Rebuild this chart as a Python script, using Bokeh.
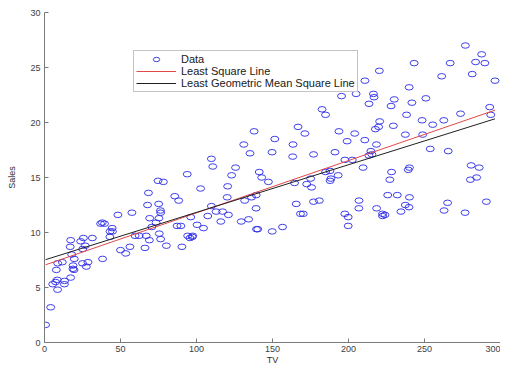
from bokeh.plotting import figure
from bokeh.models import Range1d, FixedTicker, Legend, LegendItem, ColumnDataSource
from bokeh.embed import file_html
from bokeh.resources import INLINE
import numpy as np

tv = [230.1, 44.5, 17.2, 151.5, 180.8, 8.7, 57.5, 120.2, 8.6, 199.8,
      66.1, 214.7, 23.8, 97.5, 204.1, 195.4, 67.8, 281.4, 69.2, 147.3,
      218.4, 237.4, 13.2, 228.3, 62.3, 262.9, 142.9, 240.1, 248.8, 70.6,
      292.9, 112.9, 97.2, 265.6, 95.7, 290.7, 266.9, 74.7, 43.1, 228.0,
      202.5, 177.0, 293.6, 206.9, 25.1, 175.1, 89.7, 239.9, 227.2, 66.9,
      199.8, 100.4, 216.4, 182.6, 262.7, 198.9, 7.3, 136.2, 210.8, 210.7,
      53.5, 261.3, 239.3, 102.7, 131.1, 69.0, 31.5, 139.3, 237.4, 216.8,
      199.1, 109.8, 26.8, 129.4, 213.4, 16.9, 27.5, 120.5, 5.4, 116.0,
      76.4, 239.8, 75.3, 68.4, 213.5, 193.2, 76.3, 110.7, 88.3, 109.8,
      134.3, 28.6, 217.7, 250.9, 107.4, 163.3, 197.6, 184.9, 289.7, 135.2,
      222.4, 296.4, 280.2, 187.9, 238.2, 137.9, 25.0, 90.4, 13.1, 255.4,
      225.8, 241.7, 175.7, 209.6, 78.2, 75.1, 139.2, 76.4, 125.7, 19.4,
      141.3, 18.8, 224.0, 123.1, 229.5, 87.2, 7.8, 80.2, 220.3, 59.6,
      0.7, 265.2, 8.4, 219.8, 36.9, 48.3, 25.6, 273.7, 43.0, 184.9,
      73.4, 193.7, 220.5, 104.6, 96.2, 140.3, 240.1, 243.2, 38.0, 44.7,
      280.7, 121.0, 197.6, 171.3, 187.8, 4.1, 93.9, 149.8, 11.7, 131.7,
      172.5, 85.7, 188.4, 163.5, 117.2, 234.5, 17.9, 206.8, 215.4, 284.3,
      50.0, 164.5, 19.6, 168.4, 222.4, 276.9, 248.4, 170.2, 276.7, 165.6,
      156.6, 218.5, 56.2, 287.6, 253.8, 205.0, 139.5, 191.1, 286.0, 18.7,
      39.5, 75.5, 17.2, 166.8, 149.7, 38.2, 94.2, 177.0, 283.6, 232.1]

sales = [22.1, 10.4, 9.3, 18.5, 12.9, 7.2, 11.8, 13.2, 4.8, 10.6,
         8.6, 17.4, 9.2, 9.7, 19.0, 22.4, 12.5, 24.4, 11.3, 14.6,
         18.0, 12.5, 5.6, 15.5, 9.7, 12.0, 15.0, 15.9, 18.9, 10.5,
         21.4, 11.9, 9.6, 17.4, 9.5, 12.8, 25.4, 14.7, 10.1, 21.5,
         16.6, 17.1, 20.7, 12.9, 8.5, 14.9, 10.6, 23.2, 14.8, 9.7,
         11.4, 10.7, 22.6, 21.2, 20.2, 23.7, 5.5, 13.2, 23.8, 18.4,
         8.1, 24.2, 15.7, 14.0, 18.0, 9.3, 9.5, 13.4, 18.9, 22.3,
         18.3, 12.4, 8.8, 11.0, 17.0, 8.7, 6.9, 14.2, 5.3, 11.0,
         11.8, 12.3, 11.3, 13.6, 21.7, 15.2, 12.0, 16.0, 12.9, 16.7,
         11.2, 7.3, 19.4, 22.2, 11.5, 16.9, 11.7, 15.5, 25.4, 17.2,
         11.7, 23.8, 14.8, 14.7, 20.7, 19.2, 7.2, 8.7, 5.3, 19.8,
         13.4, 21.8, 14.1, 15.9, 14.6, 12.6, 12.2, 9.4, 15.9, 6.6,
         15.5, 7.0, 11.6, 15.2, 19.7, 10.6, 6.6, 8.8, 24.7, 9.7,
         1.6, 12.7, 5.7, 19.6, 10.8, 11.6, 9.5, 20.8, 9.6, 20.7,
         10.9, 19.2, 20.1, 10.4, 11.4, 10.3, 13.2, 25.4, 10.9, 10.1,
         16.1, 11.6, 16.6, 19.0, 15.6, 3.2, 15.3, 10.1, 7.3, 12.9,
         14.4, 13.3, 14.9, 18.0, 11.9, 11.9, 8.0, 12.2, 17.1, 15.0,
         8.4, 14.5, 7.6, 11.7, 11.5, 27.0, 20.2, 11.7, 11.8, 12.6,
         10.5, 12.2, 8.7, 26.2, 17.6, 22.6, 10.3, 17.3, 15.9, 6.7,
         10.8, 9.9, 5.9, 19.6, 17.3, 7.6, 9.7, 12.8, 25.5, 13.4]

# Least geometric mean square line
lgm_intercept = 7.5
lgm_slope = 0.0433

x_ticks = [0, 50, 100, 150, 200, 250, 300]
y_ticks = [0, 5, 10, 15, 20, 25, 30]

# least squares fit from the data
ls_slope, ls_intercept = np.polyfit(tv, sales, 1)
x_line = [min(tv), max(tv)]
ls_y = [ls_intercept + ls_slope * v for v in x_line]
lgm_y = [lgm_intercept + lgm_slope * v for v in x_line]

FONT = "Liberation Sans"

p = figure(width=500, height=367, output_backend="svg", toolbar_location=None,
           x_range=Range1d(0, 300), y_range=Range1d(0, 30),
           min_border_left=44, min_border_right=0, min_border_top=12, min_border_bottom=0)
p.outline_line_color = None
p.xgrid.visible = False
p.ygrid.visible = False

for ax in (p.xaxis[0], p.yaxis[0]):
    ax.axis_line_color = "#7a7a7a"
    ax.major_tick_line_color = "#7a7a7a"
    ax.major_tick_in = 4
    ax.major_tick_out = 0
    ax.minor_tick_line_color = None
    ax.major_label_text_font = FONT
    ax.major_label_text_font_size = "9px"
    ax.major_label_text_color = "#404040"
    ax.axis_label_text_font = FONT
    ax.axis_label_text_font_size = "9px"
    ax.axis_label_text_font_style = "normal"
    ax.axis_label_text_color = "#303030"

p.xaxis.ticker = FixedTicker(ticks=x_ticks)
p.yaxis.ticker = FixedTicker(ticks=y_ticks)
p.xaxis.axis_label = "TV"
p.yaxis.axis_label = "Sales"
p.xaxis.major_label_standoff = 3
p.xaxis.axis_label_standoff = 0
p.yaxis.major_label_standoff = 4
p.yaxis.axis_label_standoff = 10

src = ColumnDataSource(dict(tv=tv, sales=sales))
r_data = p.ellipse(x="tv", y="sales", source=src, width=8, height=5.5,
                   width_units="screen", height_units="screen",
                   fill_color=None, line_color="#2a2ae6", line_width=0.9)
r_ls = p.line(x_line, ls_y, line_color="#e04848", line_width=1)
r_lgm = p.line(x_line, lgm_y, line_color="#202020", line_width=1)

legend = Legend(items=[LegendItem(label="Data", renderers=[r_data]),
                       LegendItem(label="Least Square Line", renderers=[r_ls]),
                       LegendItem(label="Least Geometric Mean Square Line", renderers=[r_lgm])],
                location=(89, 250), orientation="vertical")
legend.label_text_font = FONT
legend.label_text_font_size = "11px"
legend.label_text_color = "#202020"
legend.glyph_width = 40
legend.glyph_height = 8
legend.label_height = 12
legend.label_standoff = 5
legend.spacing = 0
legend.padding = 2
legend.margin = 0
legend.border_line_color = "#8a8a8a"
legend.border_line_width = 1.5
legend.background_fill_alpha = 1
p.add_layout(legend, "center")

open("out.html", "w").write(file_html(p, INLINE))
